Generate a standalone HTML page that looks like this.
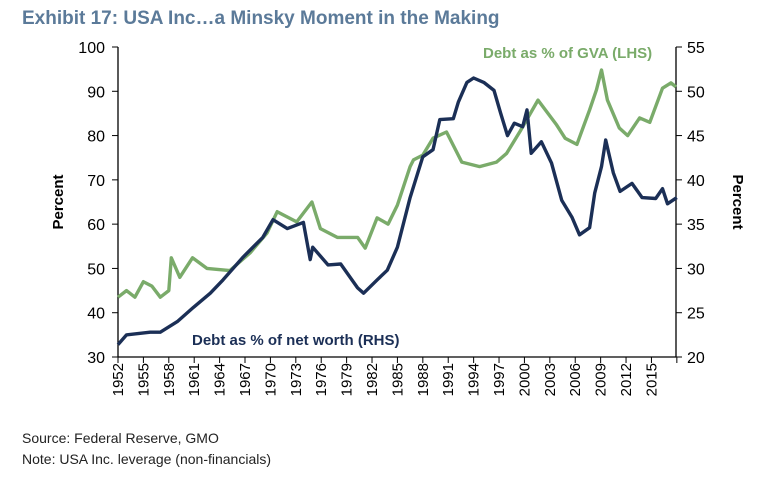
<!DOCTYPE html>
<html><head><meta charset="utf-8"><style>
body{margin:0;background:#fff;width:776px;height:474px;overflow:hidden;font-family:"Liberation Sans",sans-serif}
svg text{font-family:"Liberation Sans",sans-serif}
</style></head><body>
<svg id="chart" width="776" height="474" xmlns="http://www.w3.org/2000/svg">
<text x="22" y="24" font-size="19" font-weight="bold" fill="#5b7a99">Exhibit 17: USA Inc…a Minsky Moment in the Making</text>
<g id="axes"></g>
<g id="series"></g>
<text transform="translate(63,202) rotate(-90)" text-anchor="middle" font-size="15" font-weight="bold">Percent</text>
<text transform="translate(733,202) rotate(90)" text-anchor="middle" font-size="15" font-weight="bold">Percent</text>
<text x="483" y="58" font-size="15" font-weight="bold" fill="#7aab6a">Debt as % of GVA (LHS)</text>
<text x="192" y="345" font-size="15" font-weight="bold" fill="#1b2f56">Debt as % of net worth  (RHS)</text>
<text x="22" y="443" font-size="14" fill="#222">Source: Federal Reserve, GMO</text>
<text x="22" y="464" font-size="14" fill="#222">Note: USA Inc. leverage (non-financials)</text>
</svg>
<script>
const gvaYears=[1952,1953,1954,1955,1956,1957,1958,1958.3,1959.3,1960.8,1962.5,1965.2,1967.6,1969.6,1970.8,1973.1,1974.9,1975.9,1977.9,1980.3,1981.2,1982.6,1983.9,1985,1986.5,1986.9,1988,1989.2,1990.8,1992.6,1994.7,1996.7,1997.9,1999.5,2001.6,2003.8,2004.8,2006.2,2007.7,2008.5,2009.1,2009.8,2011.2,2012.2,2013.6,2014.8,2016.3,2017.3,2017.9];
const gvaValues=[43.5,45,43.5,47,46,43.5,45,52.4,48,52.4,50,49.5,53.5,58,62.8,60.5,65,59,57,57,54.6,61.4,60,64.3,73,74.5,75.6,79.4,80.8,74,73,74,76,81,88,82.4,79.4,78,85.8,90.3,94.8,88,81.7,80,84,83,90.7,91.9,91];
const nwYears=[1952,1953,1955.8,1957,1959,1960.9,1962.9,1964.4,1966.8,1969.1,1970.3,1972,1973.9,1974.7,1975,1976.8,1978.3,1980.3,1981,1982.6,1983.8,1985,1986.5,1988,1989.2,1990,1991.6,1992.2,1993.2,1994,1995.2,1996.4,1997.2,1998,1998.8,1999.8,2000.3,2000.8,2002,2003.2,2004.4,2005.6,2006.5,2007.7,2008.3,2009.1,2009.6,2010.5,2011.3,2012.7,2013.9,2015.5,2016.3,2016.9,2018];
const nwValues=[21.4,22.5,22.8,22.8,24,25.6,27.2,28.7,31.3,33.5,35.5,34.5,35.2,31,32.4,30.4,30.5,27.8,27.2,28.7,29.8,32.4,38,42.6,43.4,46.8,46.9,48.8,51,51.5,51,50.1,47.5,45,46.4,46,47.9,43,44.3,41.9,37.7,35.8,33.8,34.6,38.5,41.5,44.5,40.8,38.7,39.6,38,37.9,39,37.3,38];
const leftTicks=[30,40,50,60,70,80,90,100];
const rightTicks=[20,25,30,35,40,45,50,55];
const xTickYears=[1952,1955,1958,1961,1964,1967,1970,1973,1976,1979,1982,1985,1988,1991,1994,1997,2000,2003,2006,2009,2012,2015];

const X0=118,X1=676,YT=47,YB=357;
const x=y=>X0+(y-1952)*(X1-X0)/(2017.9-1952);
const yL=v=>YB-(v-30)*(YB-YT)/70;
const yR=v=>YB-(v-20)*(YB-YT)/35;
const NS="http://www.w3.org/2000/svg";
function mk(tag,attrs,parent){const e=document.createElementNS(NS,tag);for(const k in attrs)e.setAttribute(k,attrs[k]);parent.appendChild(e);return e;}
const ax=document.getElementById('axes');
let e;
e=mk('line',{x1:X0,y1:YT,x2:X0,y2:YB,stroke:'#000','stroke-width':1.3},ax);


e=mk('line',{x1:X1,y1:YT,x2:X1,y2:YB,stroke:'#000','stroke-width':1.3},ax);


e=mk('line',{x1:X0,y1:YB,x2:X1,y2:YB,stroke:'#000','stroke-width':1.3},ax);


leftTicks.forEach(v=>{
  mk('line',{x1:X0-6,y1:yL(v),x2:X0,y2:yL(v),stroke:'#000'},ax);
  e=mk('text',{x:X0-13,y:yL(v)+6,'text-anchor':'end','font-size':16},ax);
  e.textContent=v;
  
  
});
rightTicks.forEach(v=>{
  mk('line',{x1:X1,y1:yR(v),x2:X1+6,y2:yR(v),stroke:'#000'},ax);
  e=mk('text',{x:X1+11,y:yR(v)+6,'font-size':16},ax);
  e.textContent=v;
  
  
});
xTickYears.concat([2018]).forEach(yv=>{
  mk('line',{x1:x(yv),y1:YB,x2:x(yv),y2:YB+6,stroke:'#000'},ax);
});
xTickYears.forEach(yv=>{
  e=mk('text',{transform:`translate(${x(yv)+5},${YB+6}) rotate(-90)`,'text-anchor':'end','font-size':15},ax);
  e.textContent=yv;
  
  
});
const sg=document.getElementById('series');
e=mk('polyline',{points:gvaYears.map((yy,i)=>x(yy).toFixed(1)+','+yL(gvaValues[i]).toFixed(1)).join(' '),fill:'none',stroke:'#7aab6a','stroke-width':3.4,'stroke-linejoin':'round'},sg);


e=mk('polyline',{points:nwYears.map((yy,i)=>x(yy).toFixed(1)+','+yR(nwValues[i]).toFixed(1)).join(' '),fill:'none',stroke:'#1b2f56','stroke-width':3.4,'stroke-linejoin':'round'},sg);


</script>
</body></html>
